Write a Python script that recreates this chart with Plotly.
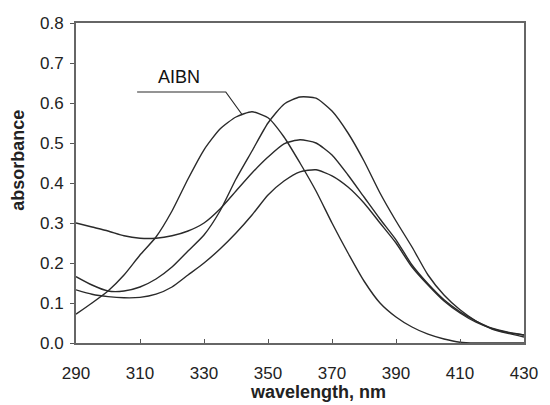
import plotly.graph_objects as go

wavelength = [290, 295, 300, 305, 310, 315, 320, 325, 330, 335, 340, 345, 350, 355, 360,
              365, 370, 375, 380, 385, 390, 395, 400, 405, 410, 415, 420, 425, 430]

aibn = [0.072, 0.10, 0.13, 0.17, 0.22, 0.265, 0.33, 0.41, 0.483, 0.535, 0.565, 0.578, 0.563,
        0.515, 0.45, 0.38, 0.30, 0.225, 0.155, 0.10, 0.065, 0.04, 0.022, 0.01, 0.002,
        0.0, 0.0, 0.0, 0.0]

sample_a = [0.30, 0.29, 0.28, 0.268, 0.262, 0.262, 0.268, 0.28, 0.30, 0.335, 0.38, 0.425, 0.465,
            0.498, 0.508, 0.50, 0.47, 0.42, 0.365, 0.31, 0.258, 0.195, 0.148, 0.108, 0.078,
            0.055, 0.037, 0.027, 0.02]

sample_b = [0.166, 0.145, 0.13, 0.13, 0.14, 0.16, 0.19, 0.23, 0.27, 0.33, 0.41, 0.48, 0.55,
            0.597, 0.615, 0.612, 0.58, 0.525, 0.455, 0.375, 0.305, 0.24, 0.17, 0.12, 0.083,
            0.055, 0.035, 0.024, 0.015]

sample_c = [0.133, 0.122, 0.116, 0.113, 0.114, 0.122, 0.14, 0.17, 0.20, 0.235, 0.275, 0.32, 0.37,
            0.405, 0.428, 0.433, 0.418, 0.39, 0.35, 0.30, 0.25, 0.19, 0.145, 0.105, 0.075,
            0.052, 0.036, 0.026, 0.02]

x_ticks = [290, 310, 330, 350, 370, 390, 410, 430]
y_ticks = [0.0, 0.1, 0.2, 0.3, 0.4, 0.5, 0.6, 0.7, 0.8]

label_text = "AIBN"
leader_x = [309.1, 336.8, 342.0]
leader_y = [0.6275, 0.6275, 0.57]

FONT = "Arial, Liberation Sans, sans-serif"
LINE = "#2a2a2a"

fig = go.Figure()
for ys in (aibn, sample_a, sample_b, sample_c):
    fig.add_trace(go.Scatter(x=wavelength, y=ys, mode="lines",
                             line=dict(color=LINE, width=1.4, shape="spline", smoothing=0.6),
                             showlegend=False, hoverinfo="skip"))

fig.add_trace(go.Scatter(x=leader_x, y=leader_y, mode="lines",
                         line=dict(color=LINE, width=1.2), showlegend=False, hoverinfo="skip"))

fig.update_layout(
    width=550, height=405,
    margin=dict(l=76, r=19, t=23, b=62),
    paper_bgcolor="white", plot_bgcolor="white",
    font=dict(family=FONT, size=17, color="#222"),
    xaxis=dict(range=[290, 430], tickvals=x_ticks, ticks="inside", ticklen=4,
               tickcolor="#555", showgrid=False, zeroline=False,
               showline=True, mirror=True, linecolor="#666", linewidth=2,
               ticklabelstandoff=14),
    yaxis=dict(range=[0, 0.8], tickvals=y_ticks, tickformat=".1f", ticks="outside",
               ticklen=4, tickcolor="#555", showgrid=False, zeroline=False,
               showline=True, mirror=True, linecolor="#666", linewidth=2,
               ticklabelstandoff=3),
    annotations=[
        dict(text="<b>wavelength, nm</b>", xref="paper", yref="paper",
             x=0.54, y=-0.153, xanchor="center", yanchor="middle",
             showarrow=False, borderpad=0, font=dict(size=18, color="#222")),
        dict(text="<b>absorbance</b>", xref="paper", yref="paper",
             x=-0.13, y=0.572, xanchor="center", yanchor="middle", textangle=-90,
             showarrow=False, font=dict(size=18, color="#222")),
        dict(text=label_text, xref="paper", yref="paper",
             x=0.231, y=0.831, xanchor="center", yanchor="middle",
             showarrow=False, font=dict(size=18, color="#111")),
    ],
)

fig.write_html("out.html", config={"displayModeBar": False, "staticPlot": True},
               post_script="document.body.style.margin='0';document.body.style.overflow='hidden';")
